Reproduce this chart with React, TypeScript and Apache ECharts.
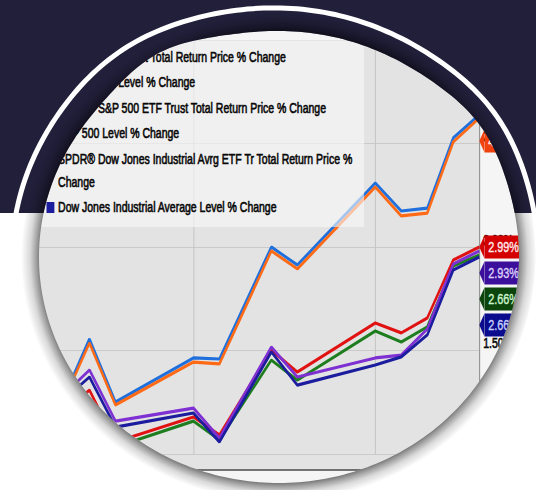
import React, { useEffect, useRef } from "react";
import * as echarts from "echarts";

// ---------------- data ----------------
const tradingDates = [
  "2024-06-12", "2024-06-13", "2024-06-14", "2024-06-17", "2024-06-18", "2024-06-20",
  "2024-06-21", "2024-06-24", "2024-06-25", "2024-06-26", "2024-06-27", "2024-06-28",
];
const axisStartDate = "2024-06-10";
const weekAnchorDate = "2024-06-03";

const seriesNames = [
  "Invesco QQQ Trust Total Return Price % Change",
  "Nasdaq-100 Level % Change",
  "SPDR® S&P 500 ETF Trust Total Return Price % Change",
  "S&P 500 Level % Change",
  "SPDR® Dow Jones Industrial Avrg ETF Tr Total Return Price % Change",
  "Dow Jones Industrial Average Level % Change",
];

const qqqTotalReturn = [1.27, 1.556, 1.251, 1.464, 1.459, 2.0, 1.913, 2.309, 2.174, 2.188, 2.527, 2.638];
const nasdaqLevel = [1.256, 1.536, 1.237, 1.444, 1.435, 1.981, 1.894, 2.29, 2.15, 2.164, 2.507, 2.623];
const spyTotalReturn = [1.203, 1.309, 1.058, 1.179, 1.092, 1.502, 1.396, 1.633, 1.585, 1.657, 1.937, 2.0];
const spxLevel = [1.174, 1.271, 1.034, 1.159, 1.068, 1.454, 1.357, 1.594, 1.541, 1.614, 1.908, 1.961];
const diaTotalReturn = [1.285, 1.406, 1.159, 1.222, 1.077, 1.517, 1.372, 1.464, 1.478, 1.604, 1.918, 1.981];
const djiLevel = [1.261, 1.372, 1.13, 1.198, 1.058, 1.493, 1.333, 1.43, 1.469, 1.575, 1.889, 1.952];

const seriesValues = [qqqTotalReturn, nasdaqLevel, spyTotalReturn, spxLevel, diaTotalReturn, djiLevel];
const lastValueTags = ["4.32%", "4.19%", "2.99%", "2.66%", "2.93%", "2.66%"];

const yAxisMin = 1;
const yAxisMax = 3;
const yAxisStep = 0.5;

// ---------------- styles ----------------
const lineColors = ["#1f6fdc", "#ff6a17", "#e01212", "#1e7d1e", "#7e30d2", "#1c1c9e"];
const tagColors = ["#1d5fd6", "#f0420e", "#d40000", "#0b450b", "#3b0f9c", "#0b0b8e"];
const tagTextColors = ["#e8f0ff", "#fff0e8", "#ffe9e9", "#cdf5cd", "#dccffb", "#c8cffc"];

const FONT = '"Liberation Sans", Arial, Helvetica, sans-serif';
const SX = 0.75; // horizontal squeeze of the screenshot inside the frame
const PAGE_W = 536;
const PAGE_H = 490;
const CHART_W = PAGE_W / SX;

const NAVY = "#221f3b";
const NAVY_BOTTOM = 213;
const OVAL = { cx: 279, cy: 257, rx: 240, ry: 226 };
const RING = { cx: 275, cy: 257, rx: 263, ry: 249 };
const SHADOW_W = 18;
// small bulges of the lens outline (angle in degrees, screen coords, amplitude, width)
const OVAL_BUMPS = [
  { at: -119, amp: 0.032, w: 13 },
  { at: -35, amp: 0.02, w: 14 },
];
const RING_BUMPS = [
  { at: -125, amp: 0.014, w: 18 },
  { at: -35, amp: 0.015, w: 16 },
];

// ---------------- helpers ----------------
const DAY_MS = 86400000;
const dayIndex = (d: string) =>
  Math.round((Date.parse(d + "T00:00:00Z") - Date.parse(weekAnchorDate + "T00:00:00Z")) / DAY_MS);

function bumpFactor(tRad: number, bumps: { at: number; amp: number; w: number }[]) {
  let deg = (tRad * 180) / Math.PI;
  deg = ((deg + 180) % 360 + 360) % 360 - 180;
  let f = 1;
  for (const b of bumps) {
    let d = deg - b.at;
    d = ((d + 180) % 360 + 360) % 360 - 180;
    f += b.amp * Math.exp(-Math.pow(d / b.w, 2));
  }
  return f;
}

function ovalPoints(
  o: { cx: number; cy: number; rx: number; ry: number },
  grow: number,
  bumps: { at: number; amp: number; w: number }[],
  clockwise: boolean
) {
  const pts: number[][] = [];
  const N = 300;
  for (let i = 0; i < N; i++) {
    const t = (clockwise ? 1 : -1) * (i / N) * Math.PI * 2;
    const f = bumpFactor(t, bumps);
    pts.push([o.cx + (o.rx + grow) * Math.cos(t) * f, o.cy + (o.ry + grow) * Math.sin(t) * f]);
  }
  return pts;
}
const toPath = (pts: number[][]) =>
  "M" + pts.map((p) => p[0].toFixed(2) + " " + p[1].toFixed(2)).join(" L") + " Z";

const maskD =
  `M0 0 L${PAGE_W} 0 L${PAGE_W} ${PAGE_H} L0 ${PAGE_H} Z ` + toPath(ovalPoints(OVAL, 0, OVAL_BUMPS, false));
const shadowD =
  toPath(ovalPoints(OVAL, SHADOW_W, OVAL_BUMPS, true)) + " " + toPath(ovalPoints(OVAL, 0, OVAL_BUMPS, false));
const ringD = toPath(ovalPoints(RING, 0, RING_BUMPS, true));

echarts.graphic.registerShape("frameMask", echarts.graphic.extendPath(maskD, {}));
echarts.graphic.registerShape("frameShadow", echarts.graphic.extendPath(shadowD, {}));
echarts.graphic.registerShape("frameRing", echarts.graphic.extendPath(ringD, {}));

function chevron(color: string) {
  const svg =
    `<svg xmlns="http://www.w3.org/2000/svg" width="8" height="23" viewBox="0 0 8 23" preserveAspectRatio="none">` +
    `<polygon points="0,11.5 8,0 8,23" fill="${color}"/></svg>`;
  return "data:image/svg+xml;charset=utf-8," + encodeURIComponent(svg);
}

// ---------------- layout (page coordinates of the screenshot) ----------------
const plotLeftPage = 11.5;
const plotRightPage = 479;
const plotTop = 40;
const gridBottomY = 454;
const plotBottomY = 470;

function buildChartOption() {
  const gridLeft = plotLeftPage / SX;
  const gridRightX = plotRightPage / SX;
  return {
    animation: false,
    backgroundColor: "#f5f5f5",
    textStyle: { fontFamily: FONT },
    grid: {
      left: gridLeft,
      right: CHART_W - gridRightX,
      top: plotTop,
      bottom: PAGE_H - gridBottomY,
      show: true,
      backgroundColor: "#e3e3e3",
      borderWidth: 0,
    },
    legend: {
      orient: "vertical",
      left: 54,
      top: plotTop,
      padding: [5.5, 3, 8, 8],
      itemGap: 2.5,
      itemWidth: 10.5,
      itemHeight: 11,
      icon: "rect",
      backgroundColor: "rgba(248,248,248,0.62)",
      selectedMode: false,
      textStyle: {
        fontFamily: FONT,
        fontSize: 14,
        color: "#080808",
        textBorderColor: "#080808",
        textBorderWidth: 0.6,
        lineHeight: 23,
        width: 405,
        overflow: "break",
      },
      data: seriesNames,
    },
    xAxis: {
      type: "value",
      min: dayIndex(axisStartDate),
      max: dayIndex(tradingDates[tradingDates.length - 1]),
      interval: 7,
      axisLine: { show: false },
      axisTick: { show: false },
      axisLabel: { show: false },
      splitLine: { show: true, lineStyle: { color: "#c4c4c4", width: 1.3 } },
    },
    yAxis: {
      type: "value",
      position: "right",
      min: yAxisMin,
      max: yAxisMax,
      interval: yAxisStep,
      axisLine: { show: true, lineStyle: { color: "#8e8e8e", width: 1.3 } },
      axisTick: { show: false },
      splitLine: { show: true, lineStyle: { color: "#c6c6c6", width: 1 } },
      axisLabel: {
        margin: 5.3,
        fontFamily: FONT,
        fontSize: 14,
        color: "#080808",
        textBorderColor: "#080808",
        textBorderWidth: 0.6,
        verticalAlign: "bottom",
        formatter: (v: number) => v.toFixed(2) + "%",
      },
    },
    graphic: {
      elements: [
        {
          type: "rect",
          silent: true,
          shape: { x: gridLeft, y: gridBottomY, width: gridRightX - gridLeft, height: plotBottomY - gridBottomY },
          style: { fill: "#e3e3e3" },
        },
        {
          type: "line",
          silent: true,
          shape: { x1: 0, y1: plotBottomY, x2: gridRightX, y2: plotBottomY },
          style: { stroke: "#4a4a4a", lineWidth: 1.6 },
        },
        {
          type: "line",
          silent: true,
          shape: { x1: gridLeft, y1: plotTop + 0.5, x2: gridRightX, y2: plotTop + 0.5 },
          style: { stroke: "#acacac", lineWidth: 1 },
        },
      ],
    },
    series: seriesValues.map((vals, k) => ({
      name: seriesNames[k],
      type: "line",
      data: tradingDates.map((d, i) => [dayIndex(d), vals[i]]),
      symbol: "none",
      showSymbol: false,
      lineStyle: { color: lineColors[k], width: 3.2 },
      itemStyle: { color: lineColors[k] },
      endLabel: {
        show: true,
        distance: 0,
        padding: [1.5, 0],
        backgroundColor: "rgba(0,0,0,0)",
        formatter: () => "{a|}{b|" + lastValueTags[k] + "}",
        rich: {
          a: { width: 7, height: 23, backgroundColor: { image: chevron(tagColors[k]) } },
          b: {
            backgroundColor: tagColors[k],
            color: tagTextColors[k],
            textBorderColor: tagTextColors[k],
            textBorderWidth: 0.4,
            fontFamily: FONT,
            fontSize: 14.5,
            height: 23,
            lineHeight: 23,
            padding: [0, 10, 0, 5],
          },
        },
      },
      labelLayout: { moveOverlap: "shiftY" },
    })),
  };
}

function buildFrameOption() {
  return {
    animation: false,
    graphic: {
      elements: [
        {
          type: "frameMask",
          silent: true,
          x: 0,
          y: 0,
          style: {
            fill: new echarts.graphic.LinearGradient(0, 0, 0, 1, [
              { offset: 0, color: NAVY },
              { offset: NAVY_BOTTOM / PAGE_H, color: NAVY },
              { offset: NAVY_BOTTOM / PAGE_H, color: "#ffffff" },
              { offset: 1, color: "#ffffff" },
            ]),
          },
        },
        {
          type: "frameShadow",
          silent: true,
          x: 0,
          y: 0,
          style: {
            fill: new echarts.graphic.RadialGradient(0.5, 0.5, 0.5, [
              { offset: 0, color: "rgba(0,0,0,0.6)" },
              { offset: 0.92, color: "rgba(0,0,0,0.6)" },
              { offset: 0.94, color: "rgba(0,0,0,0.38)" },
              { offset: 0.965, color: "rgba(0,0,0,0.15)" },
              { offset: 1, color: "rgba(0,0,0,0)" },
            ]),
          },
        },
        {
          type: "frameRing",
          silent: true,
          x: 0,
          y: 0,
          style: { fill: "none", stroke: "#ffffff", lineWidth: 5 },
        },
      ],
    },
  };
}

export default function App() {
  const chartRef = useRef<HTMLDivElement>(null);
  const frameRef = useRef<HTMLDivElement>(null);

  useEffect(() => {
    const chart = echarts.init(chartRef.current!, undefined, { renderer: "svg" });
    chart.setOption(buildChartOption() as any);
    const frame = echarts.init(frameRef.current!, undefined, { renderer: "svg" });
    frame.setOption(buildFrameOption() as any);
    return () => {
      chart.dispose();
      frame.dispose();
    };
  }, []);

  return (
    <div
      style={{
        position: "fixed",
        left: 0,
        top: 0,
        width: PAGE_W,
        height: PAGE_H,
        overflow: "hidden",
        background: "#ffffff",
      }}
    >
      <div
        ref={chartRef}
        style={{
          position: "absolute",
          left: 0,
          top: 0,
          width: CHART_W,
          height: PAGE_H,
          transform: `scaleX(${SX})`,
          transformOrigin: "0 0",
        }}
      />
      <div
        ref={frameRef}
        style={{ position: "absolute", left: 0, top: 0, width: PAGE_W, height: PAGE_H }}
      />
    </div>
  );
}
